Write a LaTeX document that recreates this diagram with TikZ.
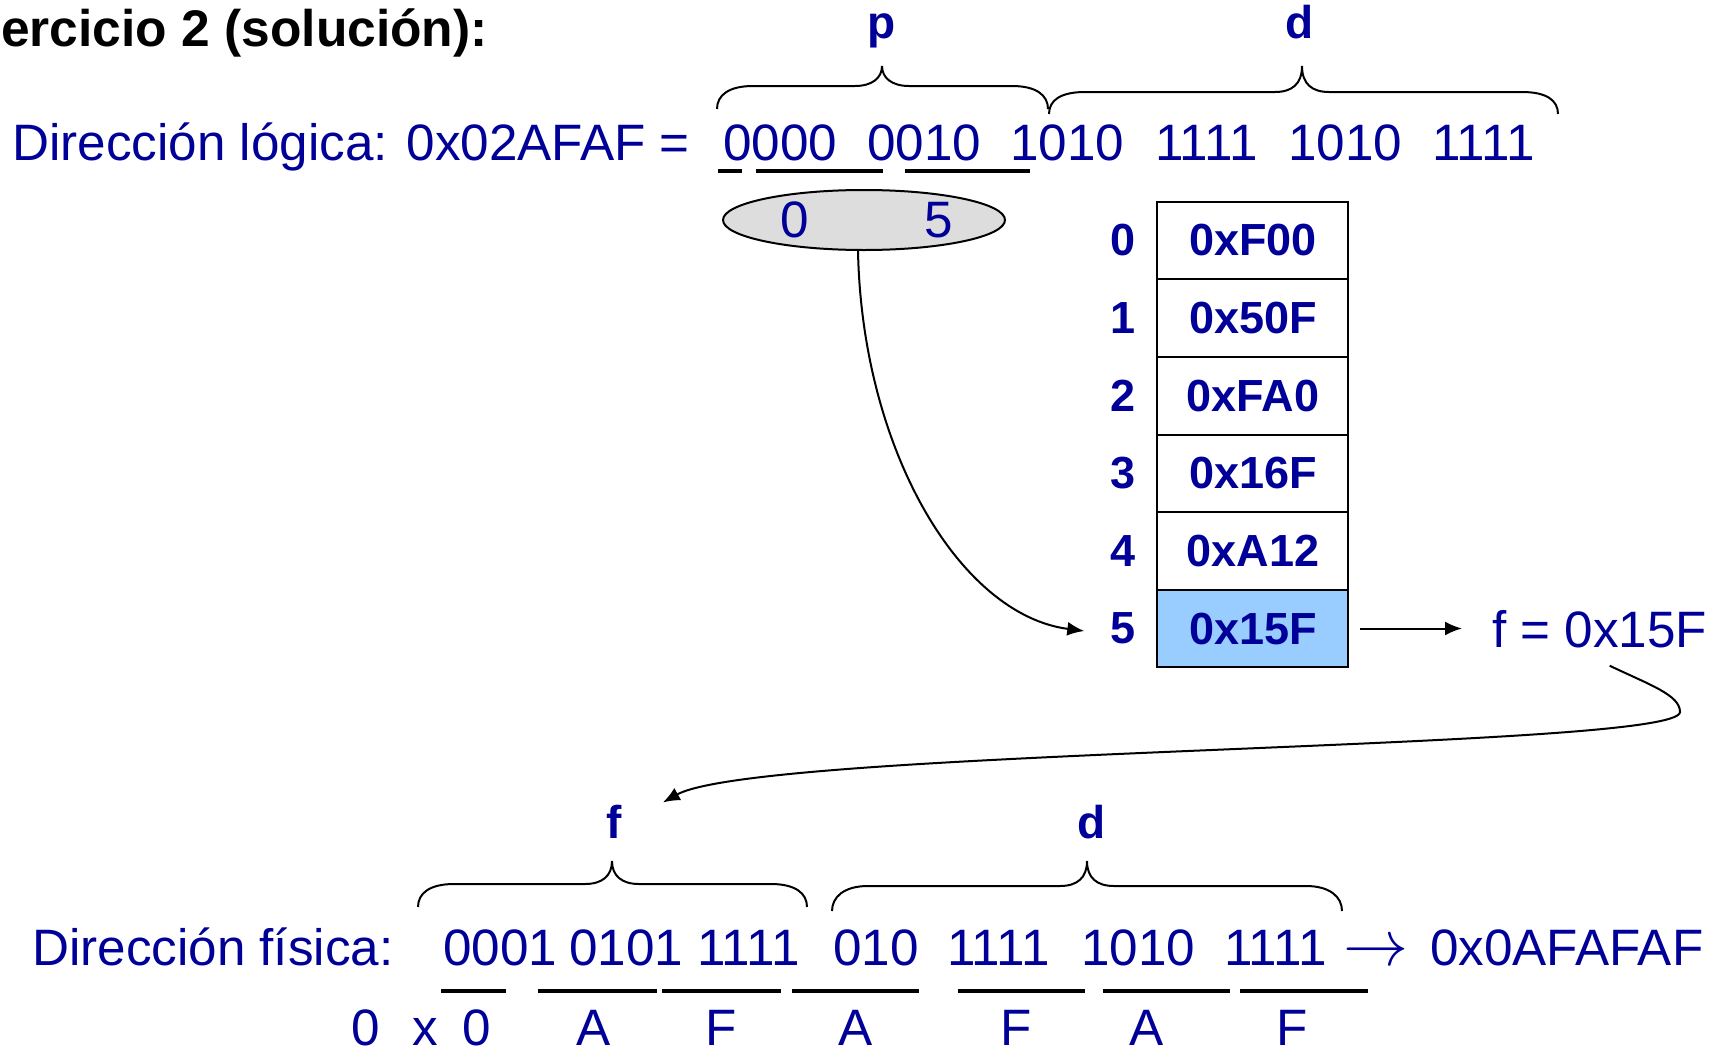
\documentclass[tikz,border=0pt]{standalone}
\usepackage{fontspec}
\setmainfont{Liberation Sans}
\usepackage{graphicx}
\usetikzlibrary{arrows.meta,shapes.geometric,calc}
\definecolor{azul}{RGB}{0,0,153}
\definecolor{celda}{RGB}{153,204,255}
\definecolor{gris}{RGB}{221,221,221}
\newcommand\mybrace[6]{% x0 xt x1 yend yh ytip
  \draw[bracestyle] (#1,#4) .. controls (#1,{#4-14}) and ({#1+12},#5) .. ({#1+36},#5) -- ({#2-27},#5) .. controls ({#2-10},#5) and (#2,{#5-8}) .. (#2,#6)
  (#2,#6) .. controls (#2,{#5-8}) and ({#2+10},#5) .. ({#2+27},#5) -- ({#3-36},#5) .. controls ({#3-12},#5) and (#3,{#4-14}) .. (#3,#4);}
\begin{document}
\begin{tikzpicture}[x=1pt,y=-1pt,
  txt/.style={inner sep=0pt,anchor=base west,text=azul,font=\fontsize{51.2}{60}\selectfont},
  txtc/.style={txt,anchor=base},
  lbl/.style={inner sep=0pt,anchor=base,text=azul,font=\fontsize{46}{54}\selectfont\bfseries},
  idx/.style={inner sep=0pt,text=azul,font=\fontsize{45}{54}\selectfont\bfseries},
  cell/.style={draw,line width=2pt,minimum width=191pt,minimum height=77.6pt,inner sep=0pt,text=azul,font=\fontsize{45}{54}\selectfont\bfseries},
  bracestyle/.style={line width=2pt},
  uline/.style={line width=3.5pt},
  conn/.style={line width=2pt,-{Latex[length=17pt,width=14pt]}},
]
\useasboundingbox (0,0) rectangle (1718,1055);

% title
\node[inner sep=0pt,anchor=base west,font=\fontsize{51.5}{60}\selectfont\bfseries] (title) at (1,46) {ercicio 2 (solución):};

% logical address
\node[txt] (dl) at (12,160) {Dirección lógica: 0x02AFAF =};
\node[txt] (b1) at (723,160) {0000};
\node[txt] (b2) at (867,160) {0010};
\node[txt] (b3) at (1010,160) {1010};
\node[txt] (b4) at (1155,160) {1111};
\node[txt] (b5) at (1288,160) {1010};
\node[txt] (b6) at (1432,160) {1111};
\draw[uline] (718,171) -- (742,171);
\draw[uline] (756,171) -- (883,171);
\draw[uline] (905,171) -- (1030,171);

\mybrace{717}{882}{1048}{109}{86}{66}
\mybrace{1049}{1302}{1558}{114}{92}{66}
\node[lbl] (lp) at (882,38) {p};
\node[lbl] (ld) at (1300,38) {d};

% page number ellipse
\node[ellipse,draw,fill=gris,line width=2pt,minimum width=282pt,minimum height=60pt,inner sep=0pt] (pg) at (864,220) {};
\node[txtc] (pg0) at (795,237) {0};
\node[txtc] (pg5) at (938.5,237) {5};

% page table
\foreach \i/\v in {0/0xF00,1/0x50F,2/0xFA0,3/0x16F,4/0xA12}{
  \node[cell] (c\i) at (1252.8,{240.5+77.6*\i}) {\v};
  \node[idx] (i\i) at (1123,{240.5+77.6*\i}) {\i};
}
\node[cell,fill=celda] (c5) at (1252.8,628.5) {0x15F};
\node[idx] (i5) at (1123,628.5) {5};

\node[txt] (fval) at (1492,647) {f = 0x15F};

% physical address labels
\node[lbl] (flab) at (614,838) {f};
\node[lbl] (dlab) at (1092,838) {d};

% connectors
\draw[conn] ([xshift=-6pt]pg.south) .. controls (862,450) and (960,615) .. ([xshift=-26pt,yshift=-2.5pt]i5.west);
\draw[conn] ([xshift=11pt]c5.east) -- ($(c5.east -| fval.west)+(-30,0)$);
\draw[conn] ([xshift=10pt,yshift=-18pt]fval.south) .. controls (1650,685) and (1680,695) .. (1680,712)
  .. controls (1680,750) and (760,748) .. ([xshift=41pt,yshift=2pt]flab.north east);

\mybrace{418}{612}{807}{907}{884}{861}
\mybrace{832}{1087}{1342}{911}{886}{861}

\node[txt] (df) at (32,965) {Dirección física:};
\node[txt] (p1) at (443,965) {0001};
\node[txt] (p2) at (569,965) {0101};
\node[txt] (p3) at (697,965) {1111};
\node[txt] (p4) at (833,965) {010};
\node[txt] (p5) at (947,965) {1111};
\node[txt] (p6) at (1081,965) {1010};
\node[txt] (p7) at (1224,965) {1111};
\node[inner sep=0pt,anchor=base west,text=azul] (arr) at (1343,965) {\scalebox{6.5}{$\rightarrow$}};
\node[txt] (res) at (1430,965) {0x0AFAFAF};

\foreach \a/\b in {441/506,538/657,662/781,792/919,958/1085,1103/1230,1240/1368}
  \draw[uline] (\a,991) -- (\b,991);

\foreach \x/\c [count=\k] in {366/0,425/x,477/0,594/A,721/F,856/A,1016/F,1147/A,1292/F}
  \node[txtc] (h\k) at (\x,1045) {\c};
\end{tikzpicture}
\end{document}
